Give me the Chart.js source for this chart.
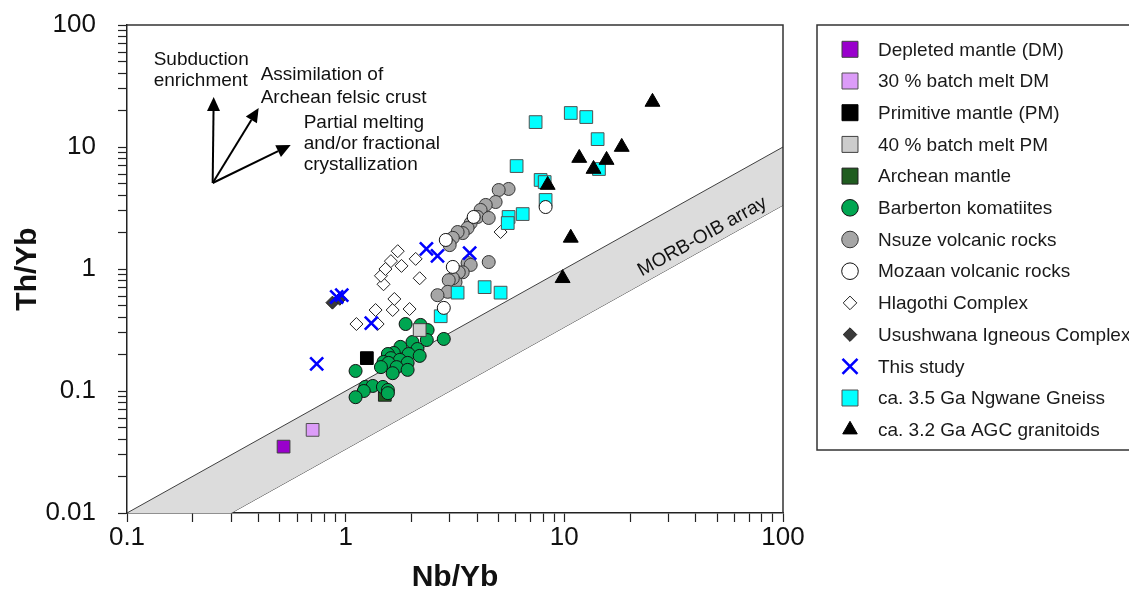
<!DOCTYPE html>
<html>
<head>
<meta charset="utf-8">
<script src="https://cdn.jsdelivr.net/npm/chart.js@4.4.1/dist/chart.umd.min.js"></script>
<style>
  html, body { margin: 0; padding: 0; background: #fff; }
  canvas { display: block; }
</style>
</head>
<body>
<canvas id="chart" width="1129" height="597"></canvas>
<script>
// Th/Yb vs Nb/Yb diagram with MORB-OIB array

const FONT = "'Liberation Sans', Arial, sans-serif";

const xTickValues = [0.1, 1, 10, 100];
const xTickLabels = ["0.1", "1", "10", "100"];
const yTickValues = [0.01, 0.1, 1, 10, 100];
const yTickLabels = ["0.01", "0.1", "1", "10", "100"];

// MORB-OIB array edges
const bandX = [0.1, 100];
const bandUpperY = [0.01, 10];
const bandLowerY = [0.003333, 3.333];

const legendLabels = [
  "Depleted mantle (DM)",
  "30 % batch melt DM",
  "Primitive mantle (PM)",
  "40 % batch melt PM",
  "Archean mantle",
  "Barberton komatiites",
  "Nsuze volcanic rocks",
  "Mozaan volcanic rocks",
  "Hlagothi Complex",
  "Usushwana Igneous Complex",
  "This study",
  "ca. 3.5 Ga Ngwane Gneiss",
  "ca. 3.2 Ga AGC granitoids",
];

const dmX = [0.52], dmY = [0.035];
const dm30X = [0.706], dm30Y = [0.048];
const pmX = [1.25], pmY = [0.186];
const pm40X = [2.18], pm40Y = [0.316];
const archX = [1.51], archY = [0.093];

const barbX = [1.88, 2.20, 2.37, 2.81, 2.35, 2.02, 1.78, 2.13, 1.66, 1.94, 1.56, 2.18, 1.61, 1.77, 1.49,
  1.92, 1.57, 1.45, 1.71, 1.92, 1.64, 1.11, 1.23, 1.33, 1.48, 1.56, 1.21, 1.11, 1.56];
const barbY = [0.354, 0.348, 0.316, 0.267, 0.262, 0.252, 0.230, 0.221, 0.205, 0.201, 0.201, 0.194, 0.186, 0.180, 0.173,
  0.170, 0.170, 0.157, 0.157, 0.149, 0.140, 0.146, 0.108, 0.110, 0.108, 0.102, 0.100, 0.089, 0.096];

const nsuzeX = [5.56, 5.01, 4.85, 4.37, 4.14, 4.01, 4.51, 3.73, 3.61, 3.43, 3.25, 3.09, 2.99, 4.51, 3.61, 3.73,
  3.43, 3.29, 3.18, 3.09, 2.96, 2.93, 2.63];
const nsuzeY = [4.53, 4.44, 3.54, 3.35, 3.05, 2.67, 2.62, 2.38, 2.17, 1.97, 2.01, 1.80, 1.57, 1.14, 1.12, 1.08,
  0.94, 0.94, 0.78, 0.84, 0.81, 0.65, 0.61];

const mozaanX = [3.85, 2.87, 3.09, 8.21, 2.81];
const mozaanY = [2.67, 1.73, 1.04, 3.22, 0.48];

const hlagX = [1.12, 1.37, 1.40, 1.64, 1.67, 1.96, 1.49, 1.45, 1.52, 1.61, 1.73, 1.80, 2.09, 2.18, 5.11];
const hlagY = [0.354, 0.461, 0.354, 0.461, 0.568, 0.470, 0.75, 0.88, 1.0, 1.16, 1.40, 1.06, 1.21, 0.84, 2.01];

const usuX = [0.87, 0.94];
const usuY = [0.53, 0.57];

const studyX = [0.91, 0.96, 0.737, 1.31, 2.34, 2.63, 3.69];
const studyY = [0.59, 0.61, 0.167, 0.36, 1.46, 1.28, 1.35];

const ngwX = [7.39, 10.7, 12.6, 14.2, 14.4, 6.05, 7.79, 8.13, 8.21, 6.45, 5.56, 5.51, 4.32, 5.11, 3.25, 2.72];
const ngwY = [16.0, 19.0, 17.6, 11.6, 6.6, 6.98, 5.37, 5.16, 3.68, 2.82, 2.67, 2.38, 0.71, 0.64, 0.64, 0.41];

const agcX = [25.3, 18.3, 11.7, 15.6, 13.6, 8.39, 10.7, 9.82];
const agcY = [23.4, 10.0, 8.12, 7.82, 6.6, 4.88, 1.80, 0.84];

// label position of the array name (data units)
const morbLabelX = 42.8, morbLabelY = 1.84;

function pts(xs, ys) {
  return xs.map((v, i) => ({ x: v, y: ys[i] }));
}

function logTicks(min, max) {
  const out = [];
  const e0 = Math.round(Math.log10(min)), e1 = Math.round(Math.log10(max));
  for (let e = e0; e <= e1; e++) {
    for (let m = 1; m <= 9; m++) {
      const v = m * Math.pow(10, e);
      if (v <= max * 1.000001) out.push({ value: v });
    }
  }
  return out;
}

function labelFor(v, values, labels) {
  const i = values.findIndex(t => Math.abs(Math.log10(t) - Math.log10(v)) < 1e-6);
  return i >= 0 ? labels[i] : "";
}

function marker(label, data, style, fill, border, radius, legendRadius, order, borderWidth) {
  return {
    label: label,
    data: data,
    pointStyle: style,
    pointRadius: radius,
    pointHoverRadius: radius,
    backgroundColor: fill,
    borderColor: border,
    pointBorderWidth: borderWidth || 1,
    borderWidth: borderWidth || 1,
    legendRadius: legendRadius,
    order: order,
  };
}

const series = [
  marker(legendLabels[0], pts(dmX, dmY), "rect", "#9900cc", "#404040", 9, 11.3, 13),
  marker(legendLabels[1], pts(dm30X, dm30Y), "rect", "#dc9cf8", "#505050", 9, 11.3, 12),
  marker(legendLabels[2], pts(pmX, pmY), "rect", "#000000", "#000000", 9, 11.3, 10),
  marker(legendLabels[3], pts(pm40X, pm40Y), "rect", "#cccccc", "#404040", 9, 11.3, 8),
  marker(legendLabels[4], pts(archX, archY), "rect", "#1f5c1f", "#202020", 9, 11.3, 11),
  marker(legendLabels[5], pts(barbX, barbY), "circle", "#00a651", "#111111", 6.5, 8.3, 9),
  marker(legendLabels[6], pts(nsuzeX, nsuzeY), "circle", "#a6a6a6", "#333333", 6.5, 8.3, 7),
  marker(legendLabels[7], pts(mozaanX, mozaanY), "circle", "#ffffff", "#111111", 6.5, 8.3, 3),
  marker(legendLabels[8], pts(hlagX, hlagY), "rectRot", "#ffffff", "#222222", 6.5, 6.8, 6),
  marker(legendLabels[9], pts(usuX, usuY), "rectRot", "#3a3a3a", "#222222", 6.5, 6.8, 5),
  marker(legendLabels[10], pts(studyX, studyY), "crossRot", "#0000ff", "#0000ff", 9.2, 10.6, 2, 2.6),
  marker(legendLabels[11], pts(ngwX, ngwY), "rect", "#00ffff", "#505050", 9, 11.3, 4),
  marker(legendLabels[12], pts(agcX, agcY), "triangle", "#000000", "#000000", 8.6, 8.4, 1),
];

const band = [
  {
    type: "line",
    label: "MORB-OIB upper",
    data: pts(bandX, bandUpperY),
    borderColor: "#404040",
    borderWidth: 1,
    backgroundColor: "#dcdcdc",
    pointRadius: 0,
    fill: "+1",
    order: 30,
  },
  {
    type: "line",
    label: "MORB-OIB lower",
    data: pts(bandX, bandLowerY),
    borderColor: "#404040",
    borderWidth: 1,
    pointRadius: 0,
    fill: false,
    order: 31,
  },
];

function arrow(ctx, x0, y0, x1, y1) {
  const a = Math.atan2(y1 - y0, x1 - x0), hl = 14, hw = 6.5;
  const bx = x1 - hl * Math.cos(a), by = y1 - hl * Math.sin(a);
  ctx.beginPath();
  ctx.moveTo(x0, y0);
  ctx.lineTo(bx, by);
  ctx.stroke();
  ctx.beginPath();
  ctx.moveTo(x1, y1);
  ctx.lineTo(bx + hw * Math.sin(a), by - hw * Math.cos(a));
  ctx.lineTo(bx - hw * Math.sin(a), by + hw * Math.cos(a));
  ctx.closePath();
  ctx.fill();
}

const decor = {
  id: "decor",
  afterDraw(chart) {
    const { ctx, chartArea: a } = chart;
    const xs = chart.scales.x, ys = chart.scales.y;

    // top and right frame
    ctx.save();
    ctx.strokeStyle = "#333";
    ctx.lineWidth = 1.5;
    ctx.beginPath();
    ctx.moveTo(a.left, a.top);
    ctx.lineTo(a.right, a.top);
    ctx.lineTo(a.right, a.bottom);
    ctx.stroke();
    ctx.restore();

    // MORB-OIB label, along the band
    ctx.save();
    const ang = Math.atan2(
      ys.getPixelForValue(bandUpperY[1]) - ys.getPixelForValue(bandUpperY[0]),
      xs.getPixelForValue(bandX[1]) - xs.getPixelForValue(bandX[0])
    );
    ctx.translate(xs.getPixelForValue(morbLabelX), ys.getPixelForValue(morbLabelY));
    ctx.rotate(ang);
    ctx.font = "19px " + FONT;
    ctx.fillStyle = "#111";
    ctx.textAlign = "center";
    ctx.textBaseline = "middle";
    ctx.fillText("MORB-OIB array", 0, 0);
    ctx.restore();

    // process arrows
    ctx.save();
    const ox = xs.getPixelForValue(0.2465), oy = ys.getPixelForValue(5.07);
    ctx.strokeStyle = "#000";
    ctx.fillStyle = "#000";
    ctx.lineWidth = 2;
    arrow(ctx, ox, oy, ox + 1, oy - 86);
    arrow(ctx, ox, oy, ox + 46, oy - 75);
    arrow(ctx, ox, oy, ox + 78, oy - 38);
    ctx.font = "19px " + FONT;
    ctx.fillStyle = "#111";
    ctx.textAlign = "left";
    ctx.textBaseline = "alphabetic";
    ctx.fillText("Subduction", ox - 59, oy - 118);
    ctx.fillText("enrichment", ox - 59, oy - 97);
    ctx.fillText("Assimilation of", ox + 48, oy - 103);
    ctx.fillText("Archean felsic crust", ox + 48, oy - 80);
    ctx.fillText("Partial melting", ox + 91, oy - 55);
    ctx.fillText("and/or fractional", ox + 91, oy - 34);
    ctx.fillText("crystallization", ox + 91, oy - 13);
    ctx.restore();

    // legend box
    ctx.save();
    ctx.strokeStyle = "#333";
    ctx.lineWidth = 1.5;
    ctx.strokeRect(817, 25, 330, 425);
    ctx.font = "19px " + FONT;
    ctx.textAlign = "left";
    ctx.textBaseline = "middle";
    series.forEach((ds, i) => {
      const ry = 49.3 + i * 31.7;
      ctx.fillStyle = ds.backgroundColor;
      ctx.strokeStyle = ds.borderColor;
      ctx.lineWidth = ds.borderWidth;
      Chart.helpers.drawPoint(ctx, {
        pointStyle: ds.pointStyle,
        radius: ds.legendRadius,
        rotation: 0,
        borderWidth: ds.borderWidth,
      }, 850, ry);
      ctx.fillStyle = "#1a1a1a";
      ctx.fillText(ds.label, 878, ry + 1);
    });
    ctx.restore();
  },
};

Chart.defaults.font.family = FONT;

new Chart(document.getElementById("chart").getContext("2d"), {
  type: "scatter",
  data: { datasets: series.concat(band) },
  options: {
    responsive: false,
    animation: false,
    layout: { padding: { top: 25, right: 346, left: 0, bottom: 0 } },
    plugins: {
      legend: { display: false },
      tooltip: { enabled: false },
    },
    scales: {
      x: {
        type: "logarithmic",
        position: "bottom",
        min: 0.1,
        max: 100,
        afterBuildTicks: s => { s.ticks = logTicks(0.1, 100); },
        afterFit: s => { s.height = 84; },
        ticks: {
          autoSkip: false,
          maxRotation: 0,
          padding: 0,
          color: "#111",
          font: { size: 26 },
          callback: v => labelFor(v, xTickValues, xTickLabels),
        },
        grid: { drawOnChartArea: false, drawTicks: true, tickLength: 9, tickColor: "#222", tickWidth: 1.2 },
        border: { display: true, color: "#222", width: 1.5 },
        title: {
          display: true,
          text: "Nb/Yb",
          color: "#111",
          font: { size: 30, weight: "bold", lineHeight: 1.2 },
          padding: { top: 0, bottom: 1 },
        },
      },
      y: {
        type: "logarithmic",
        position: "left",
        min: 0.01,
        max: 100,
        afterBuildTicks: s => { s.ticks = logTicks(0.01, 100); },
        afterFit: s => {
          s.width = 127;
          s.paddingTop = 0;
          s.paddingBottom = 0;
        },
        ticks: {
          autoSkip: false,
          padding: 22,
          color: "#111",
          font: { size: 26 },
          callback: v => labelFor(v, yTickValues, yTickLabels),
        },
        grid: { drawOnChartArea: false, drawTicks: true, tickLength: 9, tickColor: "#222", tickWidth: 1.2 },
        border: { display: true, color: "#222", width: 1.5 },
        title: {
          display: true,
          text: "Th/Yb",
          color: "#111",
          font: { size: 30, weight: "bold", lineHeight: 1.2 },
          padding: { top: 10, bottom: 0 },
        },
      },
    },
  },
  plugins: [decor],
});
</script>
</body>
</html>
